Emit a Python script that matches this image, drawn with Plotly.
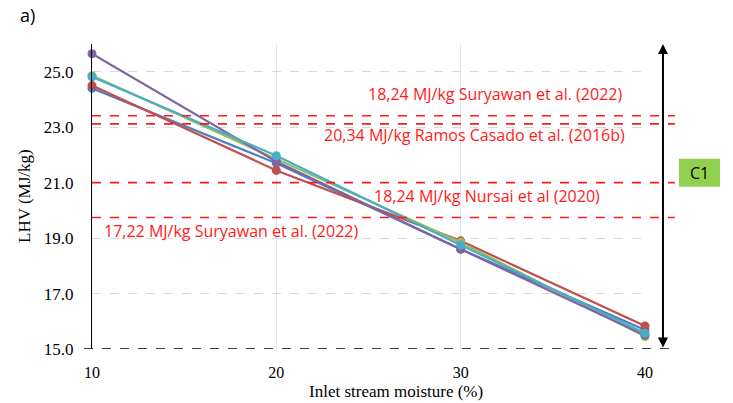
import plotly.graph_objects as go

# Inlet stream moisture (%) and lower heating value (MJ/kg) for five cases
moisture = [10, 20, 30, 40]
lhv_blue = [24.40, 21.70, 18.60, 15.69]
lhv_red = [24.50, 21.44, 18.90, 15.83]
lhv_green = [24.86, 21.85, 18.85, 15.45]
lhv_purple = [25.65, 21.76, 18.60, 15.50]
lhv_cyan = [24.82, 21.97, 18.75, 15.57]

series = [
    (lhv_blue, "#4F81BD"),
    (lhv_red, "#C0504D"),
    (lhv_green, "#9BBB59"),
    (lhv_purple, "#8064A2"),
    (lhv_cyan, "#4BACC6"),
]

# Literature reference levels (dashed red lines) and their labels
ref_levels = [23.41, 23.12, 21.0, 19.74]
ref_labels = [
    "18,24 MJ/kg Suryawan et al. (2022)",
    "20,34 MJ/kg Ramos Casado et al. (2016b)",
    "18,24 MJ/kg Nursai et al (2020)",
    "17,22 MJ/kg Suryawan et al. (2022)",
]
label_x = [0.729, 0.691, 0.715, 0.251]
label_y = [24.21, 22.73, 20.52, 19.26]

y_ticks = [15, 17, 19, 21, 23, 25]
x_ticks = [10, 20, 30, 40]

fig = go.Figure()
for vals, col in series:
    fig.add_trace(go.Scatter(
        x=moisture, y=vals, mode="lines+markers",
        line=dict(color=col, width=2.2),
        marker=dict(color=col, size=9),
        showlegend=False, cliponaxis=False,
    ))

shapes = []
for lv in ref_levels:
    shapes.append(dict(type="line", xref="paper", yref="y", x0=0, x1=1.054, y0=lv, y1=lv,
                       line=dict(color="#FF1A1A", width=1.6, dash="dash")))
# dashed baseline at the bottom of the value axis
shapes.append(dict(type="line", xref="paper", yref="y", x0=-0.0145, x1=1.054, y0=15, y1=15,
                   line=dict(color="black", width=1.3, dash="dash")))
# C1 range box
shapes.append(dict(type="rect", xref="paper", yref="y", x0=1.0615, x1=1.1356, y0=20.85, y1=21.86,
                   fillcolor="#92D050", line=dict(width=0)))

annotations = []
for txt, lx, ly in zip(ref_labels, label_x, label_y):
    annotations.append(dict(text=txt, xref="paper", yref="y", x=lx, y=ly, showarrow=False,
                            xanchor="center", yanchor="middle",
                            font=dict(family="Open Sans", size=16, color="#FF1A1A")))
annotations.append(dict(text="C1", xref="paper", yref="y", x=1.0985, y=21.35, showarrow=False,
                        xanchor="center", yanchor="middle",
                        font=dict(family="Open Sans", size=16, color="black")))
# double-headed range arrow
annotations.append(dict(text="", xref="paper", yref="y", x=1.0325, y=26.0,
                        axref="pixel", ayref="y", ax=0, ay=15.0,
                        showarrow=True, arrowhead=2, startarrowhead=2, arrowside="end+start",
                        arrowsize=1, startarrowsize=1, arrowwidth=2, arrowcolor="black"))
annotations.append(dict(text="a)", xref="paper", yref="paper", x=-0.116, y=1.095, showarrow=False,
                        xanchor="center", yanchor="middle",
                        font=dict(family="Open Sans", size=18, color="black")))
annotations.append(dict(text="LHV (MJ/kg)", xref="paper", yref="paper", x=-0.121, y=0.502,
                        textangle=-90, showarrow=False, xanchor="center", yanchor="middle",
                        font=dict(family="Liberation Serif", size=17, color="black")))
annotations.append(dict(text="Inlet stream moisture (%)", xref="paper", yref="paper", x=0.5506, y=-0.138,
                        showarrow=False, xanchor="center", yanchor="middle",
                        font=dict(family="Liberation Serif", size=17, color="black")))

fig.update_layout(
    width=733, height=403,
    margin=dict(l=92, r=88, t=44, b=54),
    paper_bgcolor="white", plot_bgcolor="white",
    shapes=shapes, annotations=annotations,
    xaxis=dict(range=[10, 40], tickvals=x_ticks, ticks="outside", ticklen=9,
               tickcolor="rgba(0,0,0,0)", showline=False, zeroline=False,
               showgrid=True, gridcolor="#E6E6E6", gridwidth=1,
               tickfont=dict(family="Liberation Serif", size=16, color="black")),
    yaxis=dict(range=[15, 26], tickvals=y_ticks, ticktext=[f"{v:.1f}" for v in y_ticks],
               ticks="outside", ticklen=14, tickcolor="rgba(0,0,0,0)",
               showline=True, linecolor="black", linewidth=1, zeroline=False,
               showgrid=True, gridcolor="#D9D9D9", gridwidth=1, griddash="dash",
               tickfont=dict(family="Liberation Serif", size=17, color="black")),
)

fig.write_html("out.html")
